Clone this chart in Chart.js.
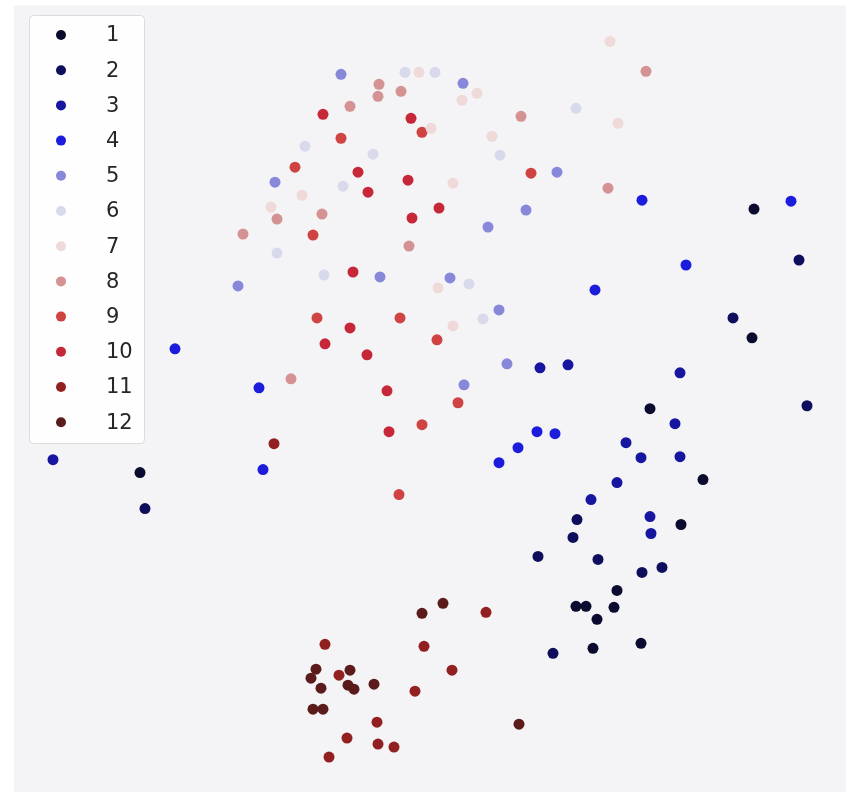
<!DOCTYPE html>
<html>
<head>
<meta charset="utf-8">
<script src="https://cdn.jsdelivr.net/npm/chart.js@4/dist/chart.umd.min.js"></script>
<style>
  html, body { margin: 0; padding: 0; background: #fff; }
  #wrap { width: 860px; height: 806px; }
</style>
</head>
<body>
<div id="wrap"><canvas id="chart" width="860" height="806"></canvas></div>
<script>
// cluster labels
const labels = ['1', '2', '3', '4', '5', '6', '7', '8', '9', '10', '11', '12'];

const colors = ['#0b0b30', '#0e0e5c', '#1616a0', '#1c1cdc', '#8888da', '#d9d9ec',
                '#efd9d9', '#d49292', '#cf4343', '#c6283a', '#922020', '#5c1b1b'];

// embedding coordinates, one array per cluster: [x, y]
const c1 = [[754, 208], [752, 337], [140, 472], [703, 479], [681, 524], [650, 408],
            [617, 590], [576, 606], [586, 606], [614, 607], [597, 619], [641, 643], [593, 648]];
const c2 = [[799, 259], [733, 317], [807, 405], [145, 508], [573, 537], [538, 556],
            [598, 559], [642, 572], [662, 567], [553, 653], [577, 519]];
const c3 = [[680, 372], [675, 423], [626, 442], [641, 457], [680, 456], [617, 482],
            [591, 499], [650, 516], [651, 533], [540, 367], [568, 364], [53, 459]];
const c4 = [[595, 289], [642, 199], [791, 200], [686, 264], [175, 348], [259, 387],
            [263, 469], [537, 431], [555, 433], [518, 447], [499, 462]];
const c5 = [[341, 73], [275, 181], [463, 82], [557, 171], [526, 209], [238, 285],
            [380, 276], [450, 277], [488, 226], [499, 309], [507, 363], [464, 384]];
const c6 = [[405, 71], [435, 71], [305, 145], [373, 153], [343, 185], [576, 107],
            [500, 154], [277, 252], [324, 274], [469, 283], [483, 318]];
const c7 = [[610, 40], [419, 71], [618, 122], [462, 99], [492, 135], [453, 182],
            [271, 206], [302, 194], [438, 287], [453, 325], [477, 92], [431, 127]];
const c8 = [[379, 83], [378, 95], [401, 90], [350, 105], [646, 70], [521, 115],
            [608, 187], [243, 233], [277, 218], [322, 213], [409, 245], [291, 378]];
const c9 = [[317, 317], [400, 317], [437, 339], [458, 402], [422, 424], [313, 234],
            [531, 172], [295, 166], [399, 494], [341, 137], [422, 131]];
const c10 = [[411, 117], [358, 171], [408, 179], [368, 191], [439, 207], [412, 217],
             [353, 271], [350, 327], [325, 343], [367, 354], [387, 390], [389, 431], [323, 113]];
const c11 = [[486, 612], [325, 644], [424, 646], [339, 675], [452, 670], [415, 691],
             [377, 722], [347, 738], [378, 744], [394, 747], [329, 757], [274, 443]];
const c12 = [[422, 613], [443, 603], [316, 669], [311, 678], [350, 670], [321, 688],
             [348, 685], [354, 689], [374, 684], [313, 709], [323, 709], [519, 724]];

const clusters = [c1, c2, c3, c4, c5, c6, c7, c8, c9, c10, c11, c12];

const datasets = clusters.map((pts, i) => ({
  label: labels[i],
  data: pts.map(p => ({ x: p[0], y: p[1] })),
  backgroundColor: colors[i],
  borderColor: colors[i],
  borderWidth: 0,
  pointRadius: 5.5,
  pointHoverRadius: 5.5
}));

// grey plot background
const areaBg = {
  id: 'areaBg',
  beforeDraw(chart) {
    const { ctx, chartArea: a } = chart;
    ctx.save();
    ctx.fillStyle = '#f4f4f6';
    ctx.fillRect(a.left, a.top, a.right - a.left, a.bottom - a.top);
    ctx.restore();
  }
};

// boxed legend in the upper left corner
const boxLegend = {
  id: 'boxLegend',
  afterDatasetsDraw(chart) {
    const ctx = chart.ctx;
    const x0 = 29, y0 = 15, w = 115, h = 428;
    ctx.save();
    ctx.fillStyle = 'rgba(255,255,255,0.85)';
    ctx.strokeStyle = '#dcdcdc';
    ctx.lineWidth = 1;
    ctx.beginPath();
    ctx.roundRect(x0 + 0.5, y0 + 0.5, w, h, 4);
    ctx.fill();
    ctx.stroke();
    ctx.font = '21px "DejaVu Sans"';
    ctx.textBaseline = 'middle';
    chart.data.datasets.forEach((ds, i) => {
      const y = 35 + i * 35.2;
      ctx.fillStyle = ds.backgroundColor;
      ctx.beginPath();
      ctx.arc(61, y, 5, 0, Math.PI * 2);
      ctx.fill();
      ctx.fillStyle = '#262626';
      ctx.fillText(ds.label, 106, y + 1);
    });
    ctx.restore();
  }
};

new Chart(document.getElementById('chart').getContext('2d'), {
  type: 'scatter',
  data: { datasets },
  options: {
    responsive: false,
    animation: false,
    layout: { padding: { left: 14, right: 14, top: 4, bottom: 14 } },
    scales: {
      x: { display: false, min: 14, max: 846 },
      y: { display: false, min: 4, max: 792, reverse: true }
    },
    plugins: {
      legend: { display: false },
      tooltip: { enabled: false }
    }
  },
  plugins: [areaBg, boxLegend]
});
</script>
</body>
</html>
